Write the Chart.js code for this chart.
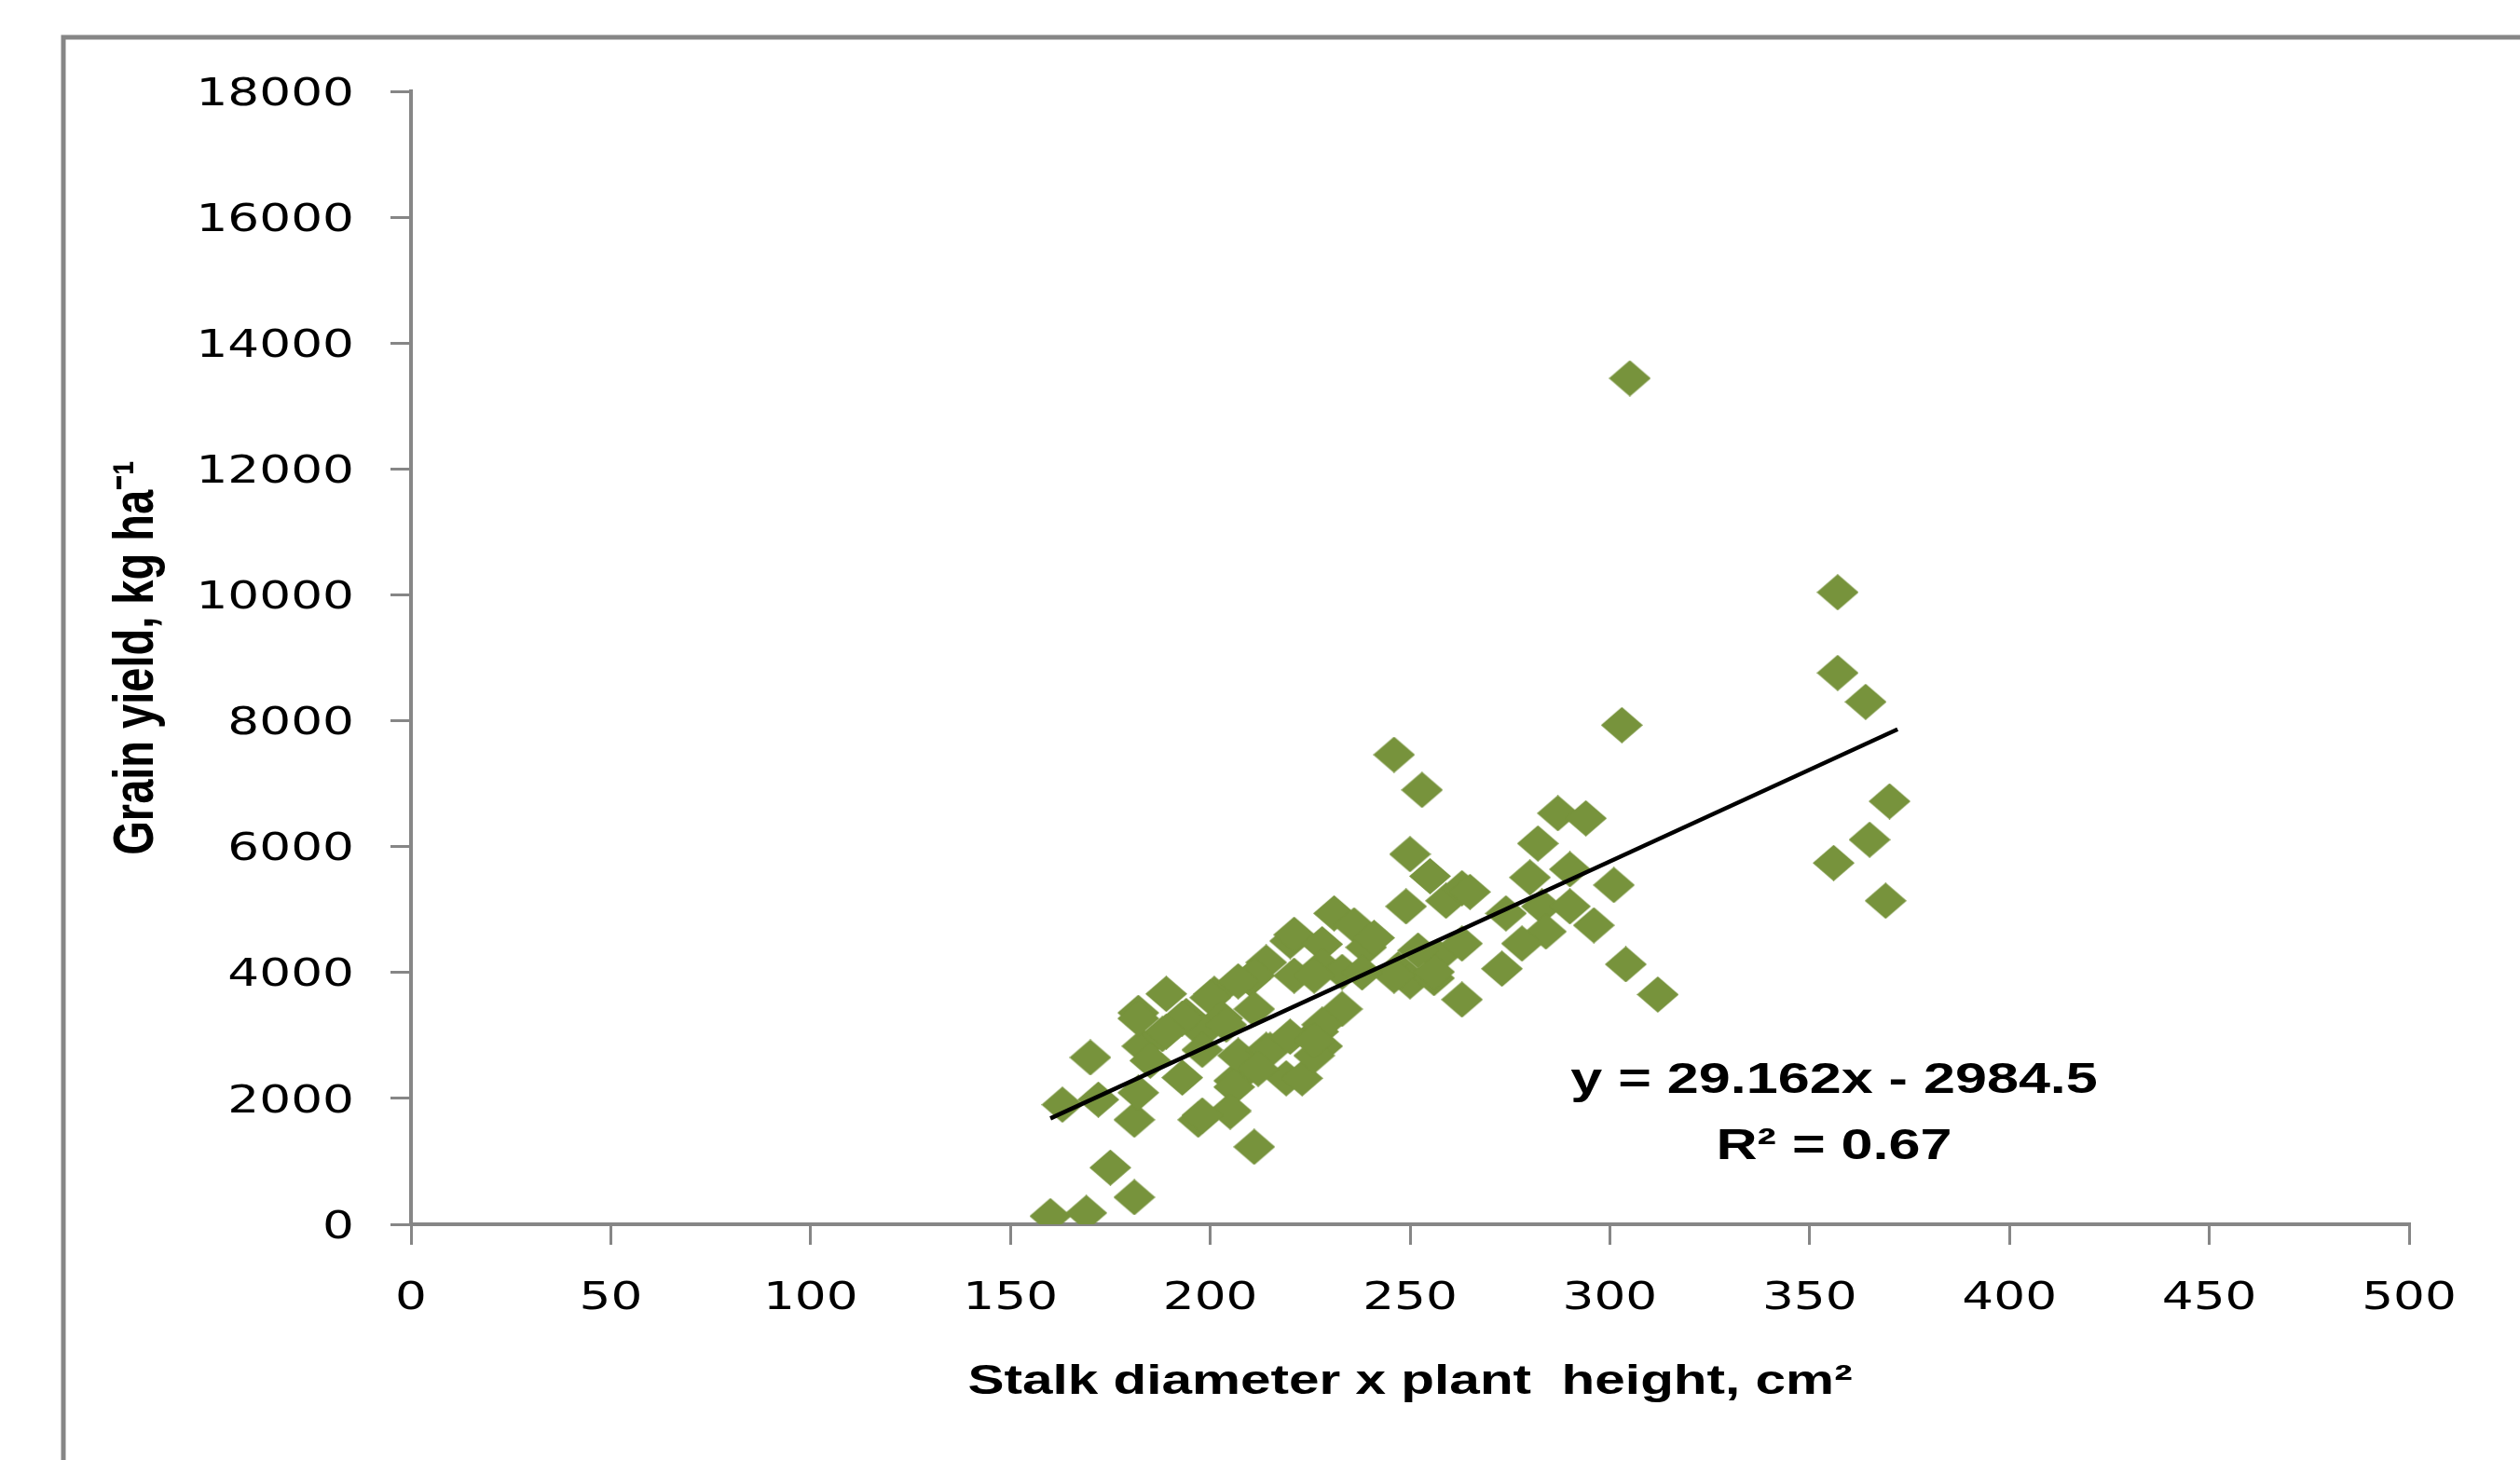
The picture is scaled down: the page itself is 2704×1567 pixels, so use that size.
<!DOCTYPE html>
<html>
<head>
<meta charset="utf-8">
<title>Grain yield vs stalk diameter x plant height</title>
<script src="https://cdn.jsdelivr.net/npm/chart.js@4.4.1/dist/chart.umd.min.js"></script>
<style>
  html, body { margin: 0; padding: 0; background: #fff; }
  #wrap { width: 2704px; height: 1567px; position: relative; }
</style>
</head>
<body>
<div id="wrap"><canvas id="yieldChart"></canvas></div>
<script>
// stalk diameter x plant height (cm2), one value per plot
const stalkArea = [
  160, 169, 181, 175, 211, 170, 163, 172, 181, 182,
  197, 205, 193, 183, 182, 189, 188, 194, 201, 206,
  207, 214, 219, 220, 214, 210, 250, 255, 249, 259,
  263, 231, 236, 221, 228, 239, 211, 200, 207, 221,
  228, 233, 247, 250, 256, 257, 263, 233, 227, 228,
  223, 211, 203, 198, 206, 205, 198, 215, 212, 303,
  246, 253, 287, 294, 282, 290, 280, 301, 265, 274,
  283, 290, 296, 284, 278, 273, 304, 256, 246, 263,
  252, 312, 305, 357, 357, 364, 370, 365, 356, 369,
  182, 193, 226, 228, 220, 204, 189, 198, 226, 226,
  185, 241, 238
];
// grain yield (kg/ha) for the same plots
const grainYield = [
  130, 180, 430, 900, 1230, 2650, 1900, 1980, 1660, 2090,
  1660, 1810, 2330, 2830, 3360, 3660, 3020, 3310, 3660, 2280,
  2680, 2770, 2320, 4500, 4160, 3900, 5880, 5530, 5050, 5140,
  5340, 4940, 4750, 4600, 4450, 4400, 3950, 3600, 3860, 3950,
  4100, 4010, 4050, 3860, 3910, 4250, 3570, 3420, 3060, 2830,
  2320, 3420, 3270, 3060, 2180, 1790, 1730, 2770, 2470, 7930,
  7460, 6900, 6530, 6450, 6050, 5640, 5510, 5390, 5280, 4940,
  5050, 5050, 4750, 4650, 4460, 4060, 4130, 4010, 3950, 4460,
  4350, 3650, 13440, 10040, 8760, 8300, 6720, 6110, 5740, 5140,
  3270, 3270, 3950, 3170, 2980, 3170, 3060, 2770, 2680, 2920,
  2600, 4550, 4000
];

const xTickValues = [0, 50, 100, 150, 200, 250, 300, 350, 400, 450, 500];
const yTickValues = [0, 2000, 4000, 6000, 8000, 10000, 12000, 14000, 16000, 18000];

// linear trendline as reported on the chart
const trendSlope = 29.162;
const trendIntercept = -2984.5;
const equationLines = ['y = 29.162x - 2984.5', 'R\u00B2 = 0.67'];

const axisGray = '#868686';
const olive = '#77933C';

// diamond marker, a bit wider than tall like the original
function makeDiamond(w, h) {
  const c = document.createElement('canvas');
  c.width = w;
  c.height = h;
  const g = c.getContext('2d');
  g.fillStyle = olive;
  g.beginPath();
  g.moveTo(w / 2, 0);
  g.lineTo(w, h / 2);
  g.lineTo(w / 2, h);
  g.lineTo(0, h / 2);
  g.closePath();
  g.fill();
  return c;
}

// the source picture has its text stretched sideways, so widen every
// fillText around its anchor point in screen space
function stretchText(ctx, sx) {
  const fill = ctx.fillText;
  ctx.fillText = function (text, x, y, maxWidth) {
    const m = this.getTransform();
    const p = m.transformPoint(new DOMPoint(x, y));
    this.save();
    this.setTransform(new DOMMatrix().translate(p.x, p.y).scale(sx, 1).translate(-p.x, -p.y).multiply(m));
    if (maxWidth === undefined) {
      fill.call(this, text, x, y);
    } else {
      fill.call(this, text, x, y, maxWidth);
    }
    this.restore();
  };
}

const points = stalkArea.map((x, i) => ({ x: x, y: grainYield[i] }));
const minX = Math.min(...stalkArea);
const maxX = Math.max(...stalkArea);
const trendPoints = [
  { x: minX, y: trendSlope * minX + trendIntercept },
  { x: maxX + 2, y: trendSlope * (maxX + 2) + trendIntercept }
];

// outer frame and the trendline equation
const framePlugin = {
  id: 'frame',
  beforeDraw(chart) {
    const ctx = chart.ctx;
    ctx.save();
    ctx.strokeStyle = axisGray;
    ctx.lineWidth = 5;
    ctx.beginPath();
    ctx.moveTo(68, chart.height + 10);
    ctx.lineTo(68, 40);
    ctx.lineTo(chart.width + 10, 40);
    ctx.stroke();
    ctx.restore();
  },
  afterDraw(chart) {
    const ctx = chart.ctx;
    ctx.save();
    ctx.fillStyle = '#000';
    ctx.font = 'bold 47px "Liberation Sans"';
    ctx.textAlign = 'center';
    ctx.textBaseline = 'middle';
    ctx.fillText(equationLines[0], 1968, 1160);
    ctx.fillText(equationLines[1], 1968, 1231);
    ctx.restore();
  }
};

Chart.defaults.font.family = '"DejaVu Sans", Verdana, sans-serif';
Chart.defaults.color = '#000';

const ctx = document.getElementById('yieldChart').getContext('2d');
stretchText(ctx, 1.3);

new Chart(ctx, {
  type: 'scatter',
  data: {
    datasets: [{
      type: 'line',
      label: 'Trend',
      data: trendPoints,
      borderColor: '#000',
      borderWidth: 4.5,
      pointRadius: 0,
      fill: false,
      order: 0
    }, {
      label: 'Plots',
      data: points,
      pointStyle: makeDiamond(45, 39),
      pointRadius: 20,
      borderWidth: 0,
      backgroundColor: olive,
      order: 1
    }]
  },
  options: {
    responsive: true,
    maintainAspectRatio: false,
    animation: false,
    layout: { padding: { top: 98, right: 119, bottom: 0, left: 0 } },
    plugins: {
      legend: { display: false },
      tooltip: { enabled: false }
    },
    scales: {
      x: {
        type: 'linear',
        min: 0,
        max: 500,
        afterBuildTicks: s => { s.ticks = xTickValues.map(v => ({ value: v })); },
        afterFit: s => { s.height = 253; },
        grid: { drawOnChartArea: false, color: axisGray, lineWidth: 3, tickLength: 22 },
        border: { color: axisGray, width: 4 },
        ticks: {
          autoSkip: false,
          maxRotation: 0,
          padding: 34,
          font: { size: 41 },
          callback: v => String(v)
        },
        title: {
          display: true,
          text: 'Stalk diameter x plant  height, cm\u00B2',
          font: { family: '"Liberation Sans", Arial, sans-serif', size: 45, weight: 'bold' },
          padding: { top: 0, bottom: 56 }
        }
      },
      y: {
        min: 0,
        max: 18000,
        afterBuildTicks: s => { s.ticks = yTickValues.map(v => ({ value: v })); },
        afterFit: s => { s.width = 441; },
        grid: { drawOnChartArea: false, color: axisGray, lineWidth: 3, tickLength: 22 },
        border: { color: axisGray, width: 4 },
        ticks: {
          autoSkip: false,
          padding: 39,
          labelOffset: 4,
          font: { size: 41 },
          callback: v => String(v)
        },
        title: {
          display: true,
          text: 'Grain yield, kg ha\u207B\u00B9',
          font: { family: '"Liberation Sans", Arial, sans-serif', size: 47, weight: 'bold' },
          padding: { top: 119, bottom: 0 }
        }
      }
    }
  },
  plugins: [framePlugin]
});
</script>
</body>
</html>
